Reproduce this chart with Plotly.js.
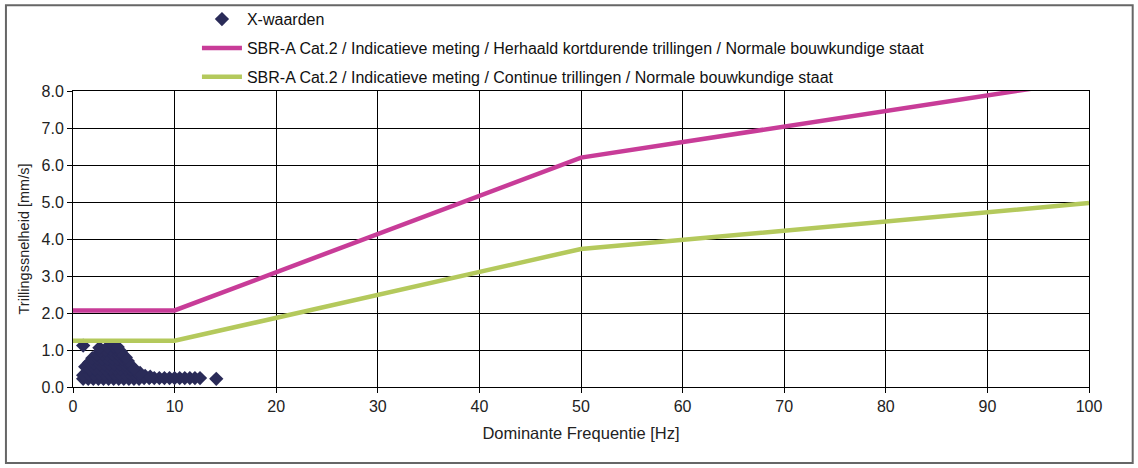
<!DOCTYPE html>
<html>
<head>
<meta charset="utf-8">
<script src="https://cdn.plot.ly/plotly-3.0.1.min.js"></script>
<style>
html,body{margin:0;padding:0;background:#fff;}
#chart{width:1138px;height:468px;}
</style>
</head>
<body>
<div id="chart"></div>
<script>
// Measured points (X-waarden)
const scatterX = [
  1.0, 1.5, 2.0, 2.5, 3.0, 3.5, 4.0, 4.5, 5.0, 5.5, 6.0, 6.5, 7.0, 7.5, 8.0, 8.5, 9.0, 9.5, 10.0, 10.5, 11.0, 11.5, 12.0, 12.5, 14.1,
  1.0, 1.6, 2.1, 2.6, 3.1, 3.6, 4.1, 4.6, 5.1, 5.6, 6.1, 6.6, 7.1, 7.6,
  1.2, 1.7, 2.2, 2.7, 3.2, 3.7, 4.2, 4.7, 5.2, 5.7, 6.2, 6.6,
  1.6, 2.1, 2.6, 3.1, 3.6, 4.1, 4.6, 5.1, 5.6, 6.0,
  1.9, 2.4, 2.9, 3.4, 3.9, 4.4, 4.9, 5.4,
  2.4, 2.9, 3.4, 3.9, 4.4, 4.9, 5.2,
  2.7, 3.2, 3.7, 4.2, 4.7,
  1.0, 2.6, 3.4, 4.0, 4.4
];
const scatterY = [
  0.22, 0.22, 0.22, 0.22, 0.22, 0.22, 0.22, 0.22, 0.22, 0.22, 0.22, 0.22, 0.24, 0.24, 0.24, 0.24, 0.24, 0.24, 0.24, 0.24, 0.24, 0.24, 0.24, 0.24, 0.22,
  0.32, 0.34, 0.34, 0.36, 0.36, 0.36, 0.36, 0.36, 0.36, 0.36, 0.34, 0.32, 0.30, 0.28,
  0.55, 0.48, 0.48, 0.48, 0.48, 0.50, 0.50, 0.50, 0.50, 0.48, 0.42, 0.38,
  0.66, 0.64, 0.62, 0.62, 0.62, 0.62, 0.62, 0.62, 0.58, 0.50,
  0.78, 0.78, 0.76, 0.76, 0.76, 0.76, 0.76, 0.70,
  0.88, 0.90, 0.88, 0.90, 0.90, 0.86, 0.80,
  0.98, 1.00, 1.02, 1.02, 0.96,
  1.12, 1.06, 1.08, 1.10, 1.08
];

// Limit lines
const limitFreq = [0, 10, 50, 100];
const limitShort = [2.07, 2.07, 6.2, 8.3];
const limitCont = [1.25, 1.25, 3.73, 4.97];

const names = [
  'X-waarden',
  'SBR-A Cat.2 / Indicatieve meting / Herhaald kortdurende trillingen / Normale bouwkundige staat',
  'SBR-A Cat.2 / Indicatieve meting / Continue trillingen / Normale bouwkundige staat'
];

const xTicks = [0, 10, 20, 30, 40, 50, 60, 70, 80, 90, 100];
const yTicks = [0, 1, 2, 3, 4, 5, 6, 7, 8];

const font = '"Liberation Sans", Arial, sans-serif';

const traces = [
  {x: scatterX, y: scatterY, type: 'scatter', mode: 'markers', name: names[0], legendgroup: 'a',
   marker: {symbol: 'diamond', size: 11, color: '#2a2b58'}, cliponaxis: false},
  {x: limitFreq, y: limitShort, type: 'scatter', mode: 'lines', name: names[1], legendgroup: 'b',
   line: {color: '#c83c98', width: 4.5}},
  {x: limitFreq, y: limitCont, type: 'scatter', mode: 'lines', name: names[2], legendgroup: 'c',
   line: {color: '#b4c95c', width: 4.5}}
];

const layout = {
  width: 1138, height: 468,
  margin: {l: 73, r: 49, t: 91, b: 81, autoexpand: false},
  paper_bgcolor: '#fff', plot_bgcolor: '#fff',
  font: {family: font, size: 16, color: '#222'},
  showlegend: true,
  legend: {x: 0.122, xanchor: 'left', y: 1.30, yanchor: 'top', traceorder: 'grouped', tracegroupgap: 5,
    itemwidth: 40, font: {family: font, size: 16, color: '#111'}, bgcolor: 'rgba(0,0,0,0)'},
  xaxis: {range: [0, 100], tickvals: xTicks, ticktext: xTicks.map(String), showgrid: true, gridcolor: '#000', gridwidth: 1,
    showline: true, linecolor: '#000', linewidth: 1, mirror: true, ticks: 'outside', ticklen: 5, tickcolor: '#000',
    zeroline: false, tickfont: {size: 16, color: '#222'},
    title: {text: 'Dominante Frequentie [Hz]', font: {size: 16.5, color: '#222'}, standoff: 13}},
  yaxis: {range: [0, 8], tickvals: yTicks, ticktext: yTicks.map(v => v.toFixed(1)), showgrid: true, gridcolor: '#000', gridwidth: 1,
    showline: true, linecolor: '#000', linewidth: 1, mirror: true, ticks: 'outside', ticklen: 5, tickcolor: '#000',
    zeroline: false, tickfont: {size: 16, color: '#222'},
    title: {text: 'Trillingssnelheid [mm/s]', font: {size: 14.5, color: '#222'}, standoff: 8}},
  shapes: [{type: 'rect', xref: 'paper', yref: 'paper', x0: -0.066, x1: 1.043, y0: -0.257, y1: 1.29,
    line: {color: '#666', width: 2}, fillcolor: 'rgba(0,0,0,0)', layer: 'below'}]
};

Plotly.newPlot('chart', traces, layout, {displayModeBar: false, staticPlot: true});
</script>
</body>
</html>
